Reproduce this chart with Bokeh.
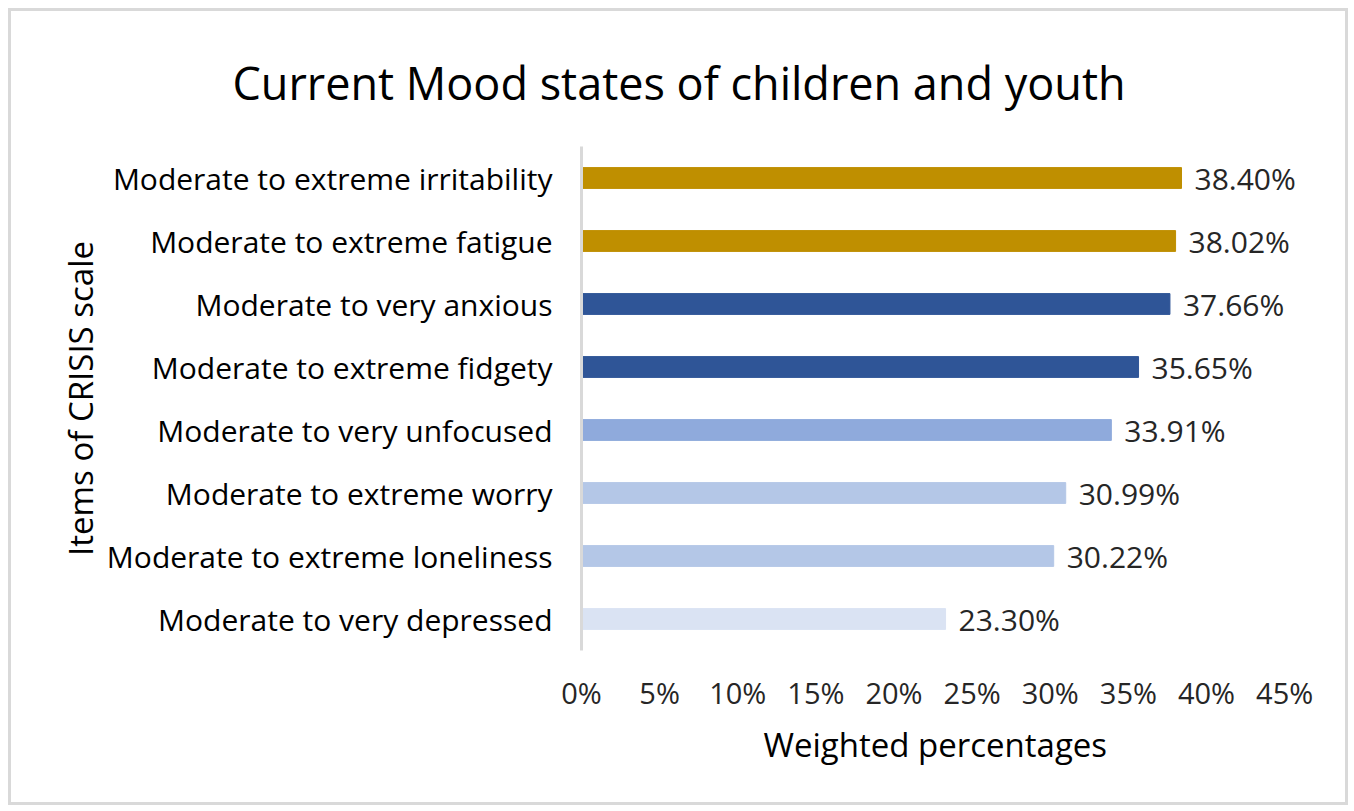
from bokeh.plotting import figure
from bokeh.models import ColumnDataSource, FactorRange, Range1d, NumeralTickFormatter, FixedTicker, LabelSet, Title
from bokeh.core.properties import value
from bokeh.embed import file_html
from bokeh.resources import INLINE

title_text = "Current Mood states of children and youth"
x_title = "Weighted percentages"
y_title = "Items of CRISIS scale"
categories = [
    "Moderate to extreme irritability",
    "Moderate to extreme fatigue",
    "Moderate to very anxious",
    "Moderate to extreme fidgety",
    "Moderate to very unfocused",
    "Moderate to extreme worry",
    "Moderate to extreme loneliness",
    "Moderate to very depressed",
]
values = [38.40, 38.02, 37.66, 35.65, 33.91, 30.99, 30.22, 23.30]
colors = ["#BF8F00", "#BF8F00", "#2F5597", "#2F5597", "#8FAADC", "#B4C7E7", "#B4C7E7", "#DAE3F3"]
x_ticks = [0, 5, 10, 15, 20, 25, 30, 35, 40, 45]

FONT = "Open Sans"

src = ColumnDataSource(dict(
    cat=categories,
    val=[v / 100 for v in values],
    color=colors,
    lab=["%.2f%%" % v for v in values],
))

p = figure(
    width=1340, height=797,
    y_range=FactorRange(*categories[::-1]),
    x_range=Range1d(0, 0.48),
    output_backend="svg", toolbar_location=None,
    min_border_left=570, min_border_right=20, min_border_top=135, min_border_bottom=158,
    styles={"border": "3px solid #d9d9d9", "margin-left": "8px", "margin-top": "8px"},
)

p.hbar(y="cat", right="val", left=0, height=0.33, color="color", source=src)

labels = LabelSet(x="val", y="cat", text="lab", source=src, x_offset=13, y_offset=0,
                  text_baseline="middle", text_font=value(FONT), text_font_size="30px",
                  text_color="#262626")
p.add_layout(labels)

p.title = Title(text=title_text, align="left", offset=-349, standoff=68,
                text_font=FONT, text_font_size="45px", text_font_style="normal",
                text_color="#000000")

p.add_layout(Title(text=x_title, align="left", offset=182, standoff=11,
                   text_font=FONT, text_font_size="33px", text_font_style="normal",
                   text_color="#000000"), "below")

p.xgrid.visible = False
p.ygrid.visible = False
p.outline_line_color = None

p.xaxis.ticker = FixedTicker(ticks=[t / 100 for t in x_ticks])
p.xaxis.formatter = NumeralTickFormatter(format="0%")
p.xaxis.axis_line_color = None
p.xaxis.major_tick_line_color = None
p.xaxis.minor_tick_line_color = None
p.xaxis.major_label_text_font = FONT
p.xaxis.major_label_text_font_size = "29px"
p.xaxis.major_label_text_color = "#262626"
p.xaxis.major_label_standoff = 16

p.yaxis.axis_line_color = "#d9d9d9"
p.yaxis.axis_line_width = 3
p.yaxis.major_tick_line_color = None
p.yaxis.minor_tick_line_color = None
p.yaxis.major_label_text_font = FONT
p.yaxis.major_label_text_font_size = "30px"
p.yaxis.major_label_text_color = "#000000"
p.yaxis.major_label_standoff = 23
p.yaxis.axis_label = y_title
p.yaxis.axis_label_text_font = FONT
p.yaxis.axis_label_text_font_size = "33px"
p.yaxis.axis_label_text_font_style = "normal"
p.yaxis.axis_label_text_color = "#000000"
p.yaxis.axis_label_standoff = 1

open("out.html", "w").write(file_html(p, INLINE))
